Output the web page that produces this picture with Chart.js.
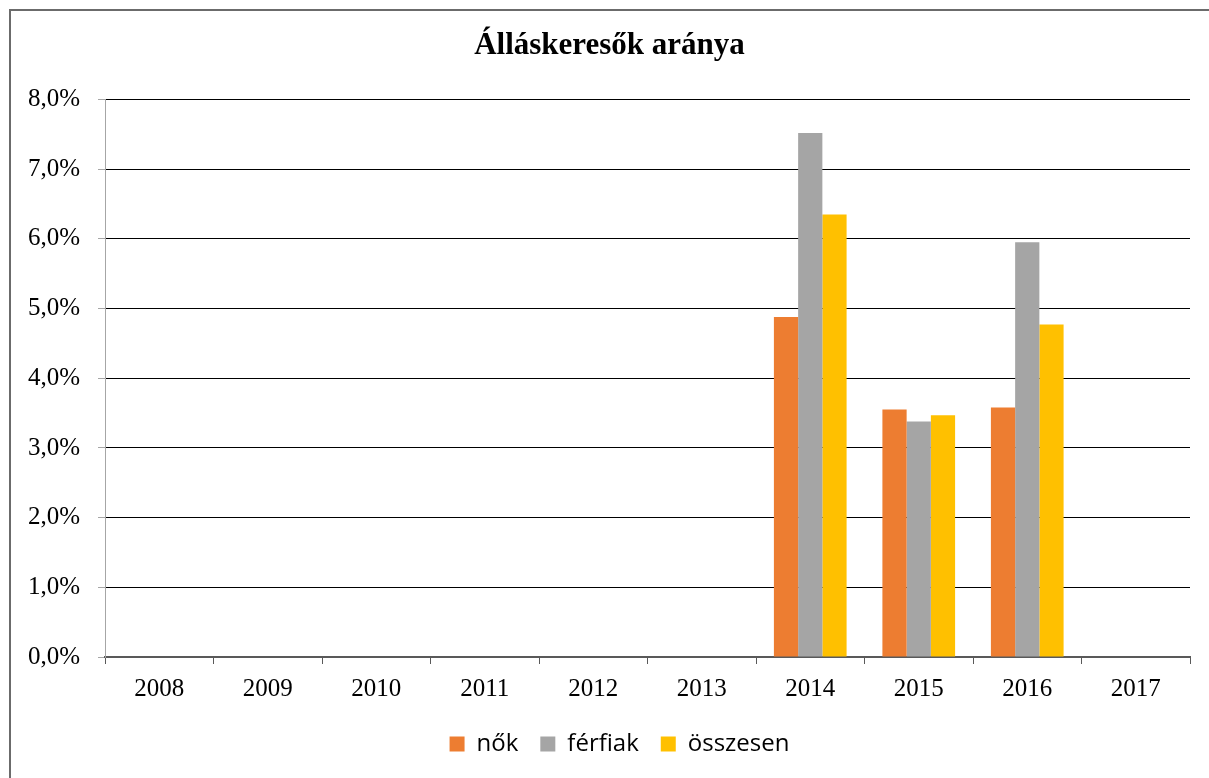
<!DOCTYPE html>
<html>
<head>
<meta charset="utf-8">
<script src="https://cdn.jsdelivr.net/npm/chart.js@4/dist/chart.umd.min.js"></script>
<style>
  html, body { margin: 0; padding: 0; background: #fff; }
  #wrap { position: relative; width: 1209px; height: 778px; }
  #frame { position: absolute; left: 9px; top: 9px; right: -10px; bottom: -10px;
           border-left: 2px solid #6b6b6b; border-top: 2px solid #6b6b6b; pointer-events: none; }
</style>
</head>
<body>
<div id="wrap">
  <canvas id="myChart" width="1209" height="778"></canvas>
  <div id="frame"></div>
</div>
<script>
var ctx = document.getElementById('myChart').getContext('2d');

// Adatok
var evek = ['2008', '2009', '2010', '2011', '2012', '2013', '2014', '2015', '2016', '2017'];
var nok = [null, null, null, null, null, null, 4.88, 3.55, 3.58, null];
var ferfiak = [null, null, null, null, null, null, 7.52, 3.38, 5.95, null];
var osszesen = [null, null, null, null, null, null, 6.35, 3.47, 4.77, null];

var serif = "'Liberation Serif', 'Times New Roman', serif";

// a cím és a jelmagyarázat kicsit jobbra tolva, mint az eredetin
var eltolas = {
    id: 'eltolas',
    afterLayout: function (chart) {
        chart.titleBlock.left += 10;
        chart.titleBlock.right += 10;
        chart.legend.left += 20;
        chart.legend.right += 20;
    }
};

var config = {
    type: 'bar',
    data: {
        labels: evek,
        datasets: [
            { label: 'nők', data: nok, backgroundColor: '#ED7D31' },
            { label: 'férfiak', data: ferfiak, backgroundColor: '#A5A5A5' },
            { label: 'összesen', data: osszesen, backgroundColor: '#FFC000' }
        ]
    },
    options: {
        responsive: false,
        animation: false,
        datasets: {
            bar: { barPercentage: 1, categoryPercentage: 0.67, borderWidth: 0 }
        },
        layout: { padding: { left: 9, right: 19, top: 9, bottom: 12 } },
        plugins: {
            title: {
                display: true,
                text: 'Álláskeresők aránya',
                color: '#000',
                font: { family: serif, size: 31, weight: 'bold', lineHeight: 1.2 },
                padding: { top: 18, bottom: 35.3 }
            },
            legend: {
                position: 'bottom',
                labels: {
                    color: '#000',
                    boxWidth: 15,
                    boxHeight: 15,
                    padding: 22,
                    font: { family: "'Open Sans', sans-serif", size: 24 }
                }
            },
            tooltip: { enabled: false }
        },
        scales: {
            x: {
                grid: { offset: true, drawOnChartArea: false, color: '#595959', tickLength: 7 },
                border: { color: '#595959', width: 2 },
                ticks: { color: '#000', padding: 10, font: { family: serif, size: 25 }, maxRotation: 0 },
                afterFit: function (s) { s.height = 53; }
            },
            y: {
                min: 0,
                max: 8,
                ticks: {
                    stepSize: 1,
                    color: '#000',
                    padding: 18,
                    font: { family: serif, size: 25 },
                    callback: function (v) { return v.toFixed(1).replace('.', ',') + '%'; }
                },
                grid: { color: '#000', lineWidth: 1, tickColor: '#a6a6a6', tickLength: 7 },
                border: { color: '#a6a6a6', width: 1 },
                afterFit: function (s) { s.width = 96; }
            }
        }
    },
    plugins: [eltolas]
};

var myChart = new Chart(ctx, config);
</script>
</body>
</html>
